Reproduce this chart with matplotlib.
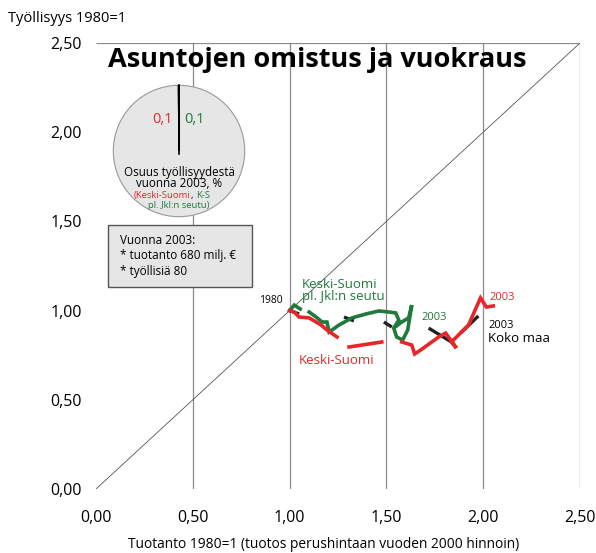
import numpy as np
import matplotlib.pyplot as plt
from matplotlib.patches import Rectangle

plt.rcParams['font.family'] = ['Open Sans', 'DejaVu Sans']

RED = '#e8262a'
GREEN = '#1f7a3c'
GRID = '#8a8a8a'

# Tuotanto (x) ja työllisyys (y), 1980=1; nan katkaisee viivan
ks_x = [1.00, 1.024, 1.049, 1.101, 1.137, 1.163, 1.193, 1.245, np.nan,
        1.307, 1.476, np.nan,
        1.579, 1.631, 1.646, 1.677, 1.770, 1.806, 1.862, 1.836, 1.924, 1.986, 2.016, 2.052]
ks_y = [1.00, 0.992, 0.964, 0.959, 0.936, 0.919, 0.891, 0.852, np.nan,
        0.796, 0.824, np.nan,
        0.824, 0.807, 0.757, 0.779, 0.852, 0.874, 0.790, 0.824, 0.919, 1.071, 1.020, 1.026]

ksj_x = [1.00, 1.024, 1.055, np.nan,
         1.101, 1.137, 1.168, 1.193, 1.204, 1.255, 1.322, 1.394, 1.461, 1.512, 1.548,
         1.564, 1.538, 1.553, 1.584, 1.610, 1.631, 1.615, 1.579, 1.553]
ksj_y = [1.00, 1.031, 1.009, np.nan,
         0.992, 0.964, 0.936, 0.936, 0.880, 0.919, 0.959, 0.981, 0.998, 0.992, 0.987,
         0.947, 0.902, 0.852, 0.835, 0.891, 1.031, 0.959, 0.936, 0.914]

kokomaa_x = [1.00, 1.049, np.nan, 1.281, 1.332, np.nan, 1.487, 1.528, np.nan,
             1.718, 1.836, np.nan, 1.883, 1.975]
kokomaa_y = [1.00, 0.981, np.nan, 0.964, 0.942, np.nan, 0.936, 0.908, np.nan,
             0.902, 0.824, np.nan, 0.874, 0.970]

ticks = [0.0, 0.5, 1.0, 1.5, 2.0, 2.5]
tick_labels = ['0,00', '0,50', '1,00', '1,50', '2,00', '2,50']

# osuus työllisyydestä 2003, %
osuus = [0.1, 0.1]
osuus_varit = [RED, GREEN]

W, H = 596, 553
fig = plt.figure(figsize=(W / 100, H / 100), dpi=100)
ax = fig.add_axes([96 / W, 1 - 489 / H, 484 / W, 446 / H])
ax.set_xlim(0, 2.5)
ax.set_ylim(0, 2.5)
for s in ax.spines.values():
    s.set_visible(False)
ax.tick_params(length=0, labelsize=11.5)
ax.tick_params(axis='x', pad=15)
ax.tick_params(axis='y', pad=10)
ax.set_xticks(ticks)
ax.set_xticklabels(tick_labels)
ax.set_yticks(ticks)
ax.set_yticklabels(tick_labels)

# pystyviivat, yläreuna ja lävistäjä
ax.vlines(ticks[1:], 0, 2.5, color=GRID, lw=0.9)
ax.hlines(2.5, 0, 2.5, color=GRID, lw=0.9)
ax.plot([0, 2.5], [0, 2.5], color='#555555', lw=0.6)

ax.plot(kokomaa_x, kokomaa_y, color='#222222', lw=2.4, solid_capstyle='butt', zorder=3)
ax.plot(ksj_x, ksj_y, color=GREEN, lw=2.6, solid_joinstyle='miter', zorder=4)
ax.plot(ks_x, ks_y, color=RED, lw=2.6, solid_joinstyle='miter', zorder=5)

ax.text(0.962, 1.059, '1980', fontsize=7.5, ha='right', va='center')
ax.text(1.065, 1.112, 'Keski-Suomi\npl. Jkl:n seutu', color=GREEN, fontsize=9.5,
        ha='left', va='center', linespacing=0.85)
ax.text(1.682, 0.959, '2003', color=GREEN, fontsize=8, ha='left', va='center')
ax.text(1.049, 0.723, 'Keski-Suomi', color=RED, fontsize=9.5, ha='left', va='center')
ax.text(2.032, 1.076, '2003', color=RED, fontsize=8, ha='left', va='center')
ax.text(2.027, 0.919, '2003', fontsize=8, ha='left', va='center')
ax.text(2.027, 0.841, 'Koko maa', fontsize=9.5, ha='left', va='center')

fig.text(317 / W, 1 - 67 / H, 'Asuntojen omistus ja vuokraus', fontsize=19.5,
         fontweight='bold', ha='center', va='baseline')
fig.text(8 / W, 1 - 18 / H, 'Työllisyys 1980=1', fontsize=10.5, ha='left', va='center')
fig.text(324 / W, 1 - 545 / H, 'Tuotanto 1980=1 (tuotos perushintaan vuoden 2000 hinnoin)',
         fontsize=9.9, ha='center', va='center')

# piirakka
pax = fig.add_axes([(179 - 67) / W, 1 - (151 + 67) / H, 134 / W, 134 / H])
wedges, _ = pax.pie(osuus + [100 - sum(osuus)], colors=osuus_varit + ['#e6e6e6'],
                    startangle=90, counterclock=True, radius=1,
                    wedgeprops=dict(linewidth=0.8, edgecolor='#999999'))
for w in wedges[:2]:
    w.set_edgecolor('black')
    w.set_linewidth(0.8)
    w.set_zorder(3)
pax.plot([0, 0], [-0.05, 1], color='black', lw=1.2, zorder=4)
pax.set_xlim(-1.02, 1.02)
pax.set_ylim(-1.02, 1.02)
pax.text(-0.1, 0.48, f'{osuus[0]:.1f}'.replace('.', ','), color=RED, fontsize=10.5,
         ha='right', va='center')
pax.text(0.08, 0.48, f'{osuus[1]:.1f}'.replace('.', ','), color=GREEN, fontsize=10.5,
         ha='left', va='center')
pax.text(0, -0.32, 'Osuus työllisyydestä', fontsize=8.4, ha='center', va='center')
pax.text(0, -0.495, 'vuonna 2003, %', fontsize=8.4, ha='center', va='center')
pax.text(0.18, -0.68, '(Keski-Suomi', color=RED, fontsize=6.8, ha='right', va='center')
pax.text(0.18, -0.68, ',', fontsize=6.8, ha='left', va='center')
pax.text(0.26, -0.68, 'K-S', color=GREEN, fontsize=6.8, ha='left', va='center')
pax.text(0, -0.83, 'pl. Jkl:n seutu)', color=GREEN, fontsize=6.8, ha='center', va='center')

# tietolaatikko
bax = fig.add_axes([108 / W, 1 - 287 / H, 144 / W, 62 / H])
bax.set_xlim(0, 1)
bax.set_ylim(0, 1)
bax.axis('off')
bax.add_patch(Rectangle((0, 0), 1, 1, facecolor='#e6e6e6', edgecolor='#555555', lw=1,
                        transform=bax.transAxes, clip_on=False))
bax.text(0.085, 0.5, 'Vuonna 2003:\n* tuotanto 680 milj. €\n* työllisiä 80', fontsize=8.5,
         ha='left', va='center', linespacing=1.3)

fig.savefig('out.png', dpi=100)
